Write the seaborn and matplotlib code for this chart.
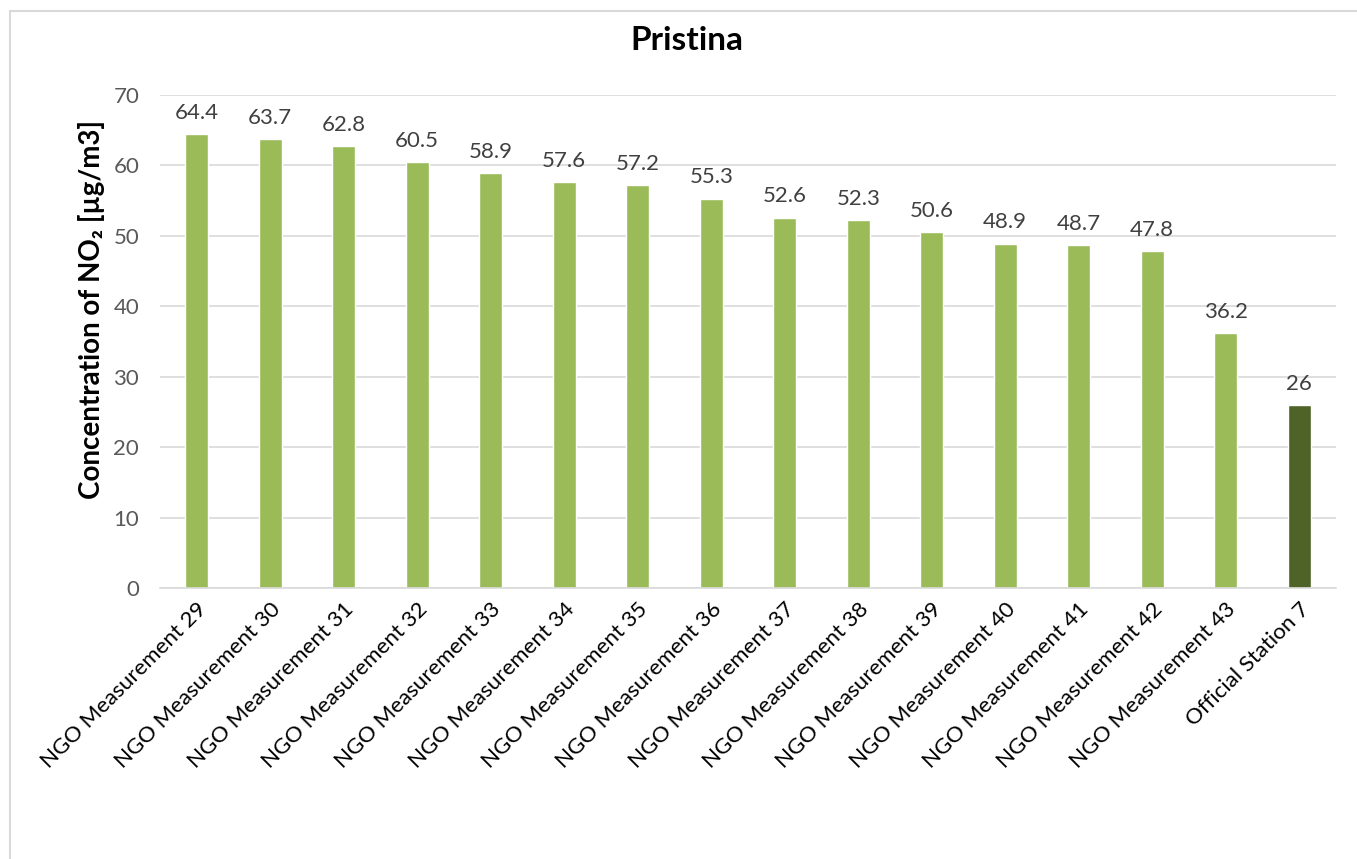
import matplotlib
matplotlib.use("Agg")
import matplotlib.pyplot as plt
import seaborn as sns
import pandas as pd
from matplotlib.patches import Rectangle

categories = [f"NGO Measurement {i}" for i in range(29, 44)] + ["Official Station 7"]
values = [64.4, 63.7, 62.8, 60.5, 58.9, 57.6, 57.2, 55.3, 52.6, 52.3, 50.6, 48.9, 48.7, 47.8, 36.2, 26]
labels = ["64.4", "63.7", "62.8", "60.5", "58.9", "57.6", "57.2", "55.3", "52.6", "52.3", "50.6", "48.9", "48.7", "47.8", "36.2", "26"]
kinds = ["NGO"] * 15 + ["Official"]
yticks = [0, 10, 20, 30, 40, 50, 60, 70]

sns.set_theme(style="white")
plt.rcParams['font.family'] = ['Lato', 'DejaVu Sans']

df = pd.DataFrame({"cat": categories, "val": values, "kind": kinds})

fig = plt.figure(figsize=(13.57, 8.59), dpi=100)
ax = fig.add_axes([160/1357, 1-588/859, 1176/1357, 493/859])

sns.barplot(data=df, x="cat", y="val", hue="kind",
            palette={"NGO": "#9BBB59", "Official": "#4F6228"},
            dodge=False, width=0.31, legend=False, ax=ax, saturation=1)

ax.set_ylim(0, 70)
ax.set_yticks(yticks)
ax.set_yticklabels([str(t) for t in yticks], color="#595959", fontsize=16)
ax.tick_params(axis="y", length=0, pad=15)
ax.grid(axis="y", color="#D9D9D9", linewidth=1.2)
ax.set_axisbelow(True)
for s in ["top", "right", "left"]:
    ax.spines[s].set_visible(False)
ax.spines["bottom"].set_color("#D9D9D9")
ax.spines["bottom"].set_linewidth(1.2)

ax.set_xlabel("")
ax.set_xticks(range(len(categories)))
ax.set_xticklabels(categories, rotation=45, ha="right", rotation_mode="anchor",
                   fontsize=16, color="black")
ax.tick_params(axis="x", length=0, pad=8)

ax.set_ylabel("Concentration of NO₂ [µg/m3]", fontsize=20, fontweight="bold",
              color="black")
ax.yaxis.set_label_coords(-0.047, 0.564)

for i, (v, lab) in enumerate(zip(values, labels)):
    ax.annotate(lab, (i, v), xytext=(0, 8), textcoords="offset points",
                ha="center", va="bottom", fontsize=16, color="#404040")

fig.text(687/1357, 1-40/859, "Pristina", ha="center", va="center",
         fontsize=24, fontweight="bold", color="black")

fig.patches.append(Rectangle((10/1357, -0.01), 1.02, 1 - 11/859 + 0.01,
                             transform=fig.transFigure, fill=False,
                             edgecolor="#D9D9D9", linewidth=1.5))

fig.savefig("out.png", dpi=100, facecolor="white")
